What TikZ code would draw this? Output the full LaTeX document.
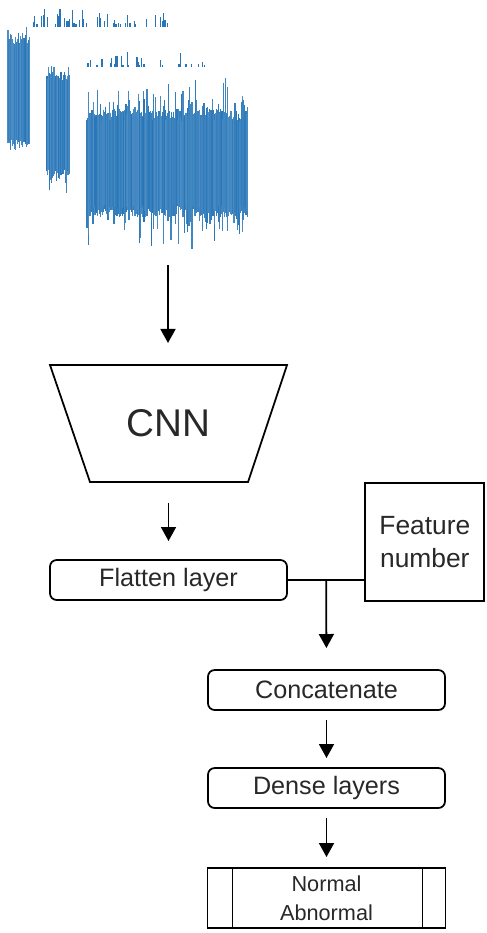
\documentclass[tikz,border=0pt]{standalone}
\usepackage{fontspec}
\setmainfont{Liberation Sans}
\usetikzlibrary{
  calc,
  positioning,
  arrows.meta
}
\definecolor{sigblue}{RGB}{40,118,184}
\definecolor{txtgray}{RGB}{40,40,40}

\tikzset{
  every node/.style = {outer sep=0pt},
  layer/.style = {draw, rounded corners=0.2cm, minimum width=7.11cm,
    minimum height=1.2cm, inner sep=0pt, font=\fontsize{21.5}{26}\selectfont},
  featbox/.style = {draw, minimum width=3.57cm, minimum height=3.54cm,
    inner sep=0pt, align=center, font=\fontsize{22.5}{28}\selectfont},
  outbox/.style = {draw, minimum width=7.14cm, minimum height=1.8cm,
    inner sep=0pt, align=center, font=\fontsize{18.5}{25}\selectfont},
  flow/.style = {-{Triangle[length=0.42cm,width=0.45cm]}},
  wave/.style = {line width=0.9pt},
}

\begin{document}
\begin{tikzpicture}[x=0.03cm, y=-0.03cm, line width=1.5pt, text=txtgray]
    \useasboundingbox (0,0) rectangle (487,933);

    % signal traces
    \pgfmathsetseed{11}
    \foreach \x in {8,8.7,...,30} {
      \pgfmathsetmacro\up{46+10*rnd+10*rnd^4}
      \pgfmathsetmacro\dn{46+10*rnd+12*rnd^4}
      \pgfmathsetmacro\c{82+18*rnd}
      \draw[wave, sigblue!\c] (\x,91-\up) -- (\x,91+\dn);
    }
    \foreach \x in {32,33.4,...,168} {
      \pgfmathsetmacro\h{rnd>0.55 ? 3+16*rnd^2 : 0}
      \draw[wave, sigblue] (\x,27) -- (\x,27-\h);
    }
    \foreach \x in {47,47.7,...,70} {
      \pgfmathsetmacro\up{44+8*rnd+8*rnd^4}
      \pgfmathsetmacro\dn{44+10*rnd+22*rnd^6}
      \pgfmathsetmacro\c{82+18*rnd}
      \draw[wave, sigblue!\c] (\x,125-\up) -- (\x,125+\dn);
    }
    \foreach \x in {88,89.4,...,205} {
      \pgfmathsetmacro\h{rnd>0.6 ? 2+15*rnd^2 : 0}
      \draw[wave, sigblue] (\x,67) -- (\x,67-\h);
    }
    \foreach \x in {87,87.6,...,248} {
      \pgfmathsetmacro\up{42+12*rnd+32*rnd^9}
      \pgfmathsetmacro\dn{42+12*rnd+34*rnd^9}
      \pgfmathsetmacro\c{82+18*rnd}
      \draw[wave, sigblue!\c] (\x,163-\up) -- (\x,163+\dn);
    }
    \coordinate (sigout) at (168,265);

    % network blocks
    \node[minimum width=7.11cm, minimum height=3.51cm, inner sep=0pt,
      font=\fontsize{33}{40}\selectfont] (cnn) at (168.5,423.5) {CNN};
    \draw (cnn.north west) -- (cnn.north east) -- ([xshift=-1.17cm]cnn.south east)
      -- ([xshift=1.2cm]cnn.south west) -- cycle;
    \node[layer, below=2.34cm of cnn] (flat) {Flatten layer};
    \node[featbox, right=2.35cm of flat, yshift=1.14cm] (feat) {Feature\\number};
    \coordinate (join) at ($(flat.east)!0.5!(flat.east -| feat.west)$);
    \node[layer, below=2.1cm of flat, xshift=4.74cm] (concat) {Concatenate};
    \node[layer, below=1.74cm of concat] (dense) {Dense layers};
    \node[outbox, below=1.8cm of dense] (out) {Normal\\Abnormal};
    \draw ([xshift=0.75cm]out.north west) -- ([xshift=0.75cm]out.south west);
    \draw ([xshift=-0.69cm]out.north east) -- ([xshift=-0.69cm]out.south east);

    \draw[flow, shorten >=0.66cm] (sigout) -- (sigout |- cnn.north);
    \draw[flow, shorten <=0.63cm, shorten >=0.57cm] (cnn.south) -- (flat.north);
    \draw (flat.east) -- (flat.east -| feat.west);
    \draw[flow, shorten >=0.66cm] (join) -- (concat.north);
    \draw[flow, shorten <=0.3cm, shorten >=0.3cm] (concat) -- (dense);
    \draw[flow, shorten <=0.3cm, shorten >=0.33cm] (dense) -- (out);
  \end{tikzpicture}
\end{document}
